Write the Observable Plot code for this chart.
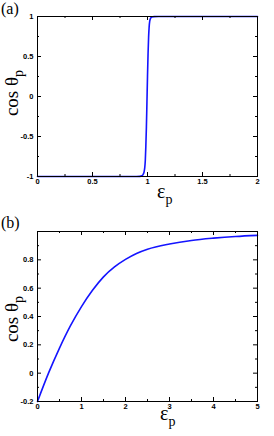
<!DOCTYPE html>
<html><head><meta charset="utf-8">
<script src="https://cdn.jsdelivr.net/npm/d3@7"></script>
<script src="https://cdn.jsdelivr.net/npm/@observablehq/plot@0.6"></script>
<style>
body{margin:0;background:#fff;}
#c{width:274px;height:436px;overflow:hidden;}
svg{display:block;}
</style></head><body><div id="c"></div>
<script>
// Panel (a)
const aEps = [0, 0.9, 0.93, 0.95, 0.96, 0.97, 0.975, 0.98, 0.985, 0.99, 0.995, 1.0, 1.005, 1.01, 1.015, 1.02, 1.03, 1.04, 1.06, 1.1, 2];
const aCos = [-1, -1, -0.998, -0.99, -0.975, -0.935, -0.89, -0.8, -0.62, -0.38, -0.07, 0.25, 0.53, 0.74, 0.87, 0.94, 0.983, 0.995, 0.999, 1, 1];
const aXTicks = [0, 0.5, 1, 1.5, 2];
const aXMinor = [0.25, 0.75, 1.25, 1.75];
const aYTicks = [-1, -0.5, 0, 0.5, 1];
const aYMinor = [-0.75, -0.25, 0.25, 0.75];

// Panel (b)
const bEps = [0, 0.25, 0.5, 0.75, 1.0, 1.25, 1.5, 1.75, 2.0, 2.25, 2.5, 3.0, 3.5, 4.0, 4.5, 5.0];
const bCos = [-0.2, 0.0, 0.177, 0.335, 0.47, 0.585, 0.68, 0.75, 0.803, 0.845, 0.875, 0.912, 0.937, 0.953, 0.965, 0.973];
const bXTicks = [0, 1, 2, 3, 4, 5];
const bXMinor = [0.5, 1.5, 2.5, 3.5, 4.5];
const bYTicks = [-0.2, 0, 0.2, 0.4, 0.6, 0.8];
const bYMinor = [-0.1, 0.1, 0.3, 0.5, 0.7, 0.9];

function panel(o) {
  const W = 274, ml = 37, mr = 17;
  const pw = W - ml - mr, ph = o.height - o.marginTop - o.marginBottom;
  const major = 4, minor = 2;
  const tx = (vals, len) => [
    Plot.tickX(vals, {x: d => d, insetTop: ph - len, stroke: "black", strokeWidth: 1}),
    Plot.tickX(vals, {x: d => d, insetBottom: ph - len, stroke: "black", strokeWidth: 1})
  ];
  const ty = (vals, len) => [
    Plot.tickY(vals, {y: d => d, insetRight: pw - len, stroke: "black", strokeWidth: 1}),
    Plot.tickY(vals, {y: d => d, insetLeft: pw - len, stroke: "black", strokeWidth: 1})
  ];
  const data = o.eps.map((e, i) => ({e, c: o.cos[i]}));
  const svg = Plot.plot({
    width: W, height: o.height,
    marginLeft: ml, marginRight: mr, marginTop: o.marginTop, marginBottom: o.marginBottom,
    x: {domain: o.xDomain},
    y: {domain: o.yDomain},
    style: {fontFamily: "'Liberation Sans', Arial, sans-serif", fontSize: "7.5px", fontWeight: "bold", color: "black", background: "white"},
    marks: [
      Plot.line(data, {x: "e", y: "c", stroke: "#1414ff", strokeWidth: 1.6, curve: "monotone-x"}),
      ...tx(o.xTicks, major), ...tx(o.xMinor, minor),
      ...ty(o.yTicks, major), ...ty(o.yMinor, minor),
      Plot.frame({stroke: "black", strokeWidth: 1}),
      Plot.axisX({ticks: o.xTicks, tickSize: 0, tickPadding: 2, tickFormat: d => String(d), label: null}),
      Plot.axisY({ticks: o.yTicks, tickSize: 0, tickPadding: 4, tickFormat: d => String(d), label: null})
    ]
  });
  const s = d3.select(svg);
  const serif = "'Liberation Serif', 'Times New Roman', serif";
  s.append("text").attr("x", 1).attr("y", o.tagY)
    .attr("text-anchor", "start")
    .attr("font-family", serif).attr("font-size", 16).attr("font-weight", "normal")
    .text(o.tag);
  const yl = s.append("text")
    .attr("transform", `translate(${o.yLabX},${o.yLabY}) rotate(-90)`)
    .attr("text-anchor", "middle")
    .attr("font-family", serif).attr("font-size", 19).attr("font-weight", "normal");
  yl.append("tspan").text("cos θ");
  yl.append("tspan").attr("dy", 5).attr("font-size", 14).text("p");
  const xl = s.append("text")
    .attr("x", o.xLabX).attr("y", o.xLabY)
    .attr("text-anchor", "start")
    .attr("font-family", serif).attr("font-size", 20).attr("font-weight", "normal");
  xl.append("tspan").text("ε");
  xl.append("tspan").attr("dy", 6).attr("font-size", 14).text("p");
  return svg;
}

const c = document.getElementById("c");
c.appendChild(panel({
  eps: aEps, cos: aCos, xDomain: [0, 2], yDomain: [-1, 1],
  xTicks: aXTicks, xMinor: aXMinor, yTicks: aYTicks, yMinor: aYMinor,
  height: 215, marginTop: 16, marginBottom: 39,
  tag: "(a)", tagY: 14, yLabX: 18, yLabY: 93, xLabX: 157, xLabY: 198
}));
c.appendChild(panel({
  eps: bEps, cos: bCos, xDomain: [0, 5], yDomain: [-0.2, 1.0],
  xTicks: bXTicks, xMinor: bXMinor, yTicks: bYTicks, yMinor: bYMinor,
  height: 221, marginTop: 16, marginBottom: 35,
  tag: "(b)", tagY: 13, yLabX: 18, yLabY: 104, xLabX: 160, xLabY: 205
}));
</script></body></html>
